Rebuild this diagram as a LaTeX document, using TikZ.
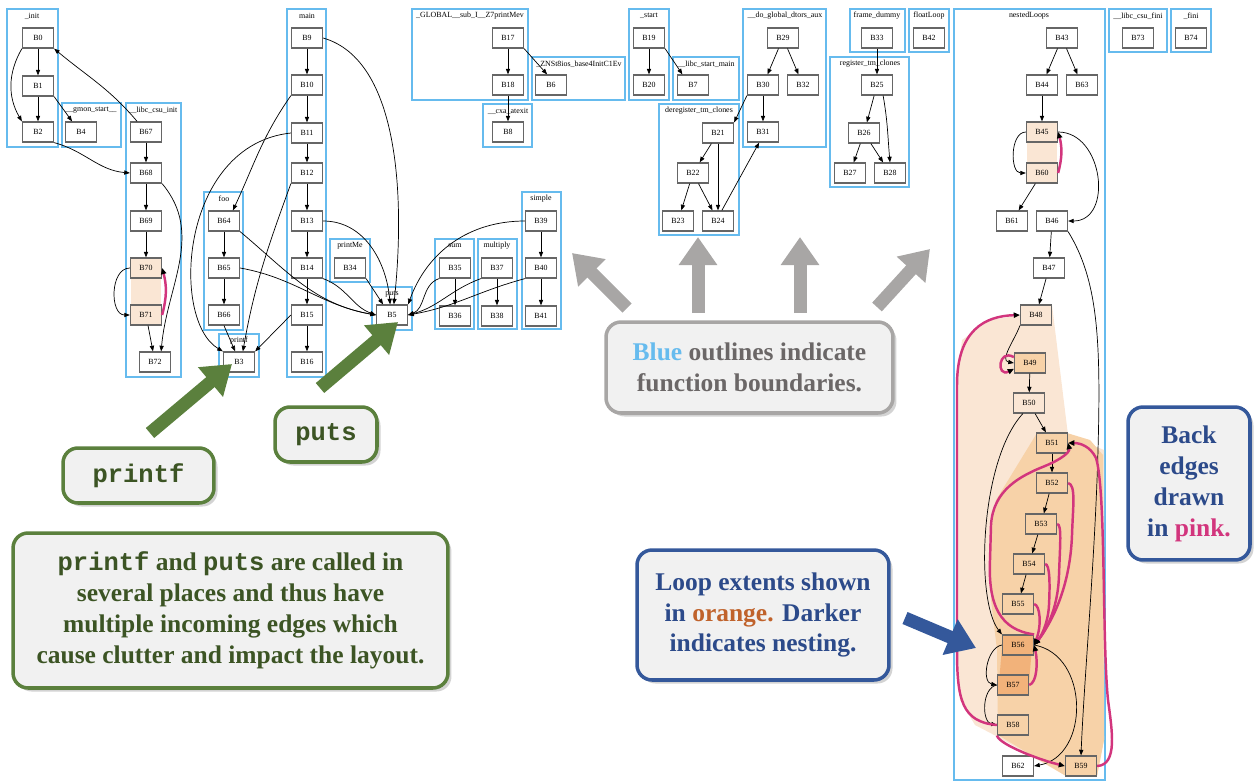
\documentclass[tikz,border=0pt]{standalone}
\usepackage{fontspec}
\setmainfont{Liberation Serif}
\setmonofont{Liberation Mono}
\usetikzlibrary{arrows.meta,shadows}

\definecolor{fnblue}{HTML}{66BBEE}
\definecolor{loopA}{HTML}{FAE6D4}
\definecolor{loopB}{HTML}{F7D2A8}
\definecolor{loopC}{HTML}{F2B27A}
\definecolor{backpink}{HTML}{D2357D}
\definecolor{grn}{HTML}{5B803D}
\definecolor{grntext}{HTML}{3C5424}
\definecolor{gry}{HTML}{A8A6A5}
\definecolor{grytext}{HTML}{6B6767}
\definecolor{nvy}{HTML}{34589B}
\definecolor{nvytext}{HTML}{2C4A8A}
\definecolor{orgtext}{HTML}{C0622B}
\definecolor{boxfill}{HTML}{F1F1F1}

\begin{document}
\begin{tikzpicture}[x=0.02cm,y=-0.02cm]
\tikzset{blk/.style={ %
		draw=black!60,
		line width=0.7pt,
		fill=white,
		minimum width=0.62cm,
		minimum height=0.4cm,
		inner sep=0pt,
		font=\fontsize{4.5}{5}\selectfont %
	},
	fn/.style={draw=fnblue, line width=1pt},
	fnname/.style={inner sep=0pt, font=\fontsize{4.5}{5}\selectfont},
	edge/.style={-{Triangle[length=3.2pt,width=2.4pt]}, line width=0.4pt},
	back/.style={draw=backpink, line width=1.4pt, -{Triangle[length=3.5pt,width=3pt,color=black]}},
	callout/.style={rounded corners=0.3cm, fill=boxfill, line width=2pt, align=center,
		inner sep=0pt, font=\fontsize{14.5}{17.6}\selectfont\bfseries,
		drop shadow={shadow xshift=2pt, shadow yshift=-2pt, opacity=0.35}},
	fat/.style={line width=7.4pt, -{Triangle[length=16pt,width=21pt]}}
}
\useasboundingbox (0,0) rectangle (1254,781);

% function boundaries
\draw[fn] (7,9) rectangle (58,147);
\draw[fn] (62,103) rectangle (121,147);
\draw[fn] (126,103) rectangle (181,377);
\draw[fn] (204,192) rectangle (243,330);
\draw[fn] (219,334) rectangle (259,377);
\draw[fn] (287,9) rectangle (326,377);
\draw[fn] (330,239) rectangle (370,282);
\draw[fn] (372,287) rectangle (412,330);
\draw[fn] (412,9) rectangle (528,100);
\draw[fn] (532,57) rectangle (625,100);
\draw[fn] (483,104) rectangle (532,147);
\draw[fn] (435,239) rectangle (474,329);
\draw[fn] (478,239) rectangle (517,329);
\draw[fn] (522,192) rectangle (561,329);
\draw[fn] (629,9) rectangle (669,100);
\draw[fn] (673,57) rectangle (739,100);
\draw[fn] (743,9) rectangle (826,147);
\draw[fn] (659,104) rectangle (739,235);
\draw[fn] (850,9) rectangle (905,52);
\draw[fn] (909,9) rectangle (949,52);
\draw[fn] (830,57) rectangle (909,187);
\draw[fn] (954,9) rectangle (1105,780);
\draw[fn] (1109,9) rectangle (1167,52);
\draw[fn] (1171,9) rectangle (1211,52);

\node[fnname] (n_init) at (32,16) {\_init};
\node[fnname] (n_gmon) at (91,110) {\_\_gmon\_start\_\_};
\node[fnname] (n_csuinit) at (153,110) {\_\_libc\_csu\_init};
\node[fnname] (n_foo) at (224,199) {foo};
\node[fnname] (n_printf) at (239,341) {printf};
\node[fnname] (n_main) at (307,16) {main};
\node[fnname] (n_printme) at (350,246) {printMe};
\node[fnname] (n_puts) at (392,294) {puts};
\node[fnname] (n_global) at (470,16) {\_GLOBAL\_\_sub\_I\_\_Z7printMev};
\node[fnname] (n_ios) at (579,64) {\_ZNSt8ios\_base4InitC1Ev};
\node[fnname] (n_cxa) at (508,111) {\_\_cxa\_atexit};
\node[fnname] (n_sum) at (455,246) {sum};
\node[fnname] (n_mult) at (497,246) {multiply};
\node[fnname] (n_simple) at (541,199) {simple};
\node[fnname] (n_start) at (649,16) {\_start};
\node[fnname] (n_startmain) at (706,64) {\_\_libc\_start\_main};
\node[fnname] (n_dtors) at (785,16) {\_\_do\_global\_dtors\_aux};
\node[fnname] (n_dereg) at (699,111) {deregister\_tm\_clones};
\node[fnname] (n_frame) at (877,16) {frame\_dummy};
\node[fnname] (n_float) at (929,16) {floatLoop};
\node[fnname] (n_reg) at (870,64) {register\_tm\_clones};
\node[fnname] (n_nested) at (1029,16) {nestedLoops};
\node[fnname] (n_csufini) at (1138,16) {\_\_libc\_csu\_fini};
\node[fnname] (n_fini) at (1191,16) {\_fini};

% loop extents
\fill[loopA] (131,268) rectangle (161,315);
\fill[loopA] (1027,132) rectangle (1057,173);
\fill[loopA] (1021,305) -- (1052,305) -- (1068,435) -- (1104,450) -- (1104,740) -- (1097,776)
	-- (1066,776) -- (998,737) -- (975,725) -- (960,700) -- (957,640) -- (957,380)
	-- (962,340) -- (990,320) -- (1021,315) -- cycle;
\fill[loopB] (1037,433) -- (1067,433) -- (1090,440) -- (1103,455) -- (1104,740) -- (1097,776)
	-- (1066,776) -- (998,735) -- (997,650) -- (991,600) -- (991,530) -- (996,500) -- cycle;
\fill[loopC] (1003,635) -- (1033,635) -- (1028,695) -- (998,695) -- cycle;

% blocks
\node[blk] (B0) at (38,38) {B0};
\node[blk] (B1) at (38,86) {B1};
\node[blk] (B2) at (38,132) {B2};
\node[blk] (B4) at (81,132) {B4};
\node[blk] (B67) at (146,132) {B67};
\node[blk] (B68) at (146,173) {B68};
\node[blk] (B69) at (146,221) {B69};
\node[blk, fill=loopA] (B70) at (146,268) {B70};
\node[blk, fill=loopA] (B71) at (146,315) {B71};
\node[blk] (B72) at (155,362) {B72};
\node[blk] (B64) at (224,221) {B64};
\node[blk] (B65) at (224,268) {B65};
\node[blk] (B66) at (224,315) {B66};
\node[blk] (B3) at (239,362) {B3};
\node[blk] (B9) at (307,38) {B9};
\node[blk] (B10) at (307,85) {B10};
\node[blk] (B11) at (307,133) {B11};
\node[blk] (B12) at (307,173) {B12};
\node[blk] (B13) at (307,221) {B13};
\node[blk] (B14) at (307,268) {B14};
\node[blk] (B15) at (307,315) {B15};
\node[blk] (B16) at (307,362) {B16};
\node[blk] (B34) at (350,268) {B34};
\node[blk] (B5) at (392,315) {B5};
\node[blk] (B17) at (508,38) {B17};
\node[blk] (B18) at (508,85) {B18};
\node[blk] (B6) at (551,85) {B6};
\node[blk] (B8) at (508,132) {B8};
\node[blk] (B35) at (455,268) {B35};
\node[blk] (B36) at (455,316) {B36};
\node[blk] (B37) at (497,268) {B37};
\node[blk] (B38) at (497,316) {B38};
\node[blk] (B39) at (541,221) {B39};
\node[blk] (B40) at (541,268) {B40};
\node[blk] (B41) at (541,316) {B41};
\node[blk] (B19) at (649,38) {B19};
\node[blk] (B20) at (649,85) {B20};
\node[blk] (B7) at (693,85) {B7};
\node[blk] (B29) at (783,38) {B29};
\node[blk] (B30) at (763,85) {B30};
\node[blk] (B32) at (803,85) {B32};
\node[blk] (B31) at (763,132) {B31};
\node[blk] (B21) at (718,133) {B21};
\node[blk] (B22) at (693,173) {B22};
\node[blk] (B23) at (678,221) {B23};
\node[blk] (B24) at (718,221) {B24};
\node[blk] (B33) at (877,38) {B33};
\node[blk] (B42) at (929,38) {B42};
\node[blk] (B25) at (877,85) {B25};
\node[blk] (B26) at (864,133) {B26};
\node[blk] (B27) at (850,173) {B27};
\node[blk] (B28) at (890,173) {B28};
\node[blk] (B73) at (1138,38) {B73};
\node[blk] (B74) at (1191,38) {B74};
\node[blk] (B43) at (1062,38) {B43};
\node[blk] (B44) at (1042,85) {B44};
\node[blk] (B63) at (1082,85) {B63};
\node[blk, fill=loopA] (B45) at (1042,132) {B45};
\node[blk, fill=loopA] (B60) at (1042,173) {B60};
\node[blk] (B61) at (1012,221) {B61};
\node[blk] (B46) at (1052,221) {B46};
\node[blk] (B47) at (1049,268) {B47};
\node[blk, fill=loopA] (B48) at (1036,315) {B48};
\node[blk, fill=loopB] (B49) at (1030,363) {B49};
\node[blk, fill=loopA] (B50) at (1029,403) {B50};
\node[blk, fill=loopB] (B51) at (1052,443) {B51};
\node[blk, fill=loopB] (B52) at (1052,483) {B52};
\node[blk, fill=loopB] (B53) at (1041,524) {B53};
\node[blk, fill=loopB] (B54) at (1029,564) {B54};
\node[blk, fill=loopB] (B55) at (1018,604) {B55};
\node[blk, fill=loopC] (B56) at (1018,645) {B56};
\node[blk, fill=loopC] (B57) at (1013,685) {B57};
\node[blk, fill=loopB] (B58) at (1013,725) {B58};
\node[blk] (B62) at (1018,766) {B62};
\node[blk, fill=loopB] (B59) at (1081,766) {B59};

% edges, left part
\draw[edge] (B0) -- (B1);
\draw[edge] (B1) -- (B2);
\draw[edge] (B0.south west) to[out=240,in=120] (B2.north west);
\draw[edge] (B1.south east) -- (B4.130);
\draw[edge] (B67.130) to[out=130,in=-40] (B0.south east);
\draw[edge] (B2.south east) to[out=-15,in=175] (B68.west);
\draw[edge] (B67) -- (B68);
\draw[edge] (B68) -- (B69);
\draw[edge] (B69) -- (B70);
\draw[edge] (B70.west) to[out=180,in=180,looseness=1.1] (B71.west);
\draw[edge] (B71) -- (B72);
\draw[edge] (B68.south east) to[out=-50,in=85] (B72.60);
\draw[back] (B71.east) to[out=75,in=-75] (B70.east);

\draw[edge] (B64) -- (B65);
\draw[edge] (B65) -- (B66);
\draw[edge] (B10.south west) to[out=235,in=65] (B64.50);
\draw[edge] (B11.west) .. controls (180,145) and (170,320) .. (B3.north west);
\draw[edge] (B12.south west) to[out=250,in=80] (B3.70);
\draw[edge] (B15.west) -- (B3.north east);
\draw[edge] (B66.south) -- (B3.110);
\draw[edge] (B9) -- (B10);
\draw[edge] (B10) -- (B11);
\draw[edge] (B11) -- (B12);
\draw[edge] (B12) -- (B13);
\draw[edge] (B13) -- (B14);
\draw[edge] (B14) -- (B15);
\draw[edge] (B15) -- (B16);

% calls to puts
\draw[edge] (B64.south east) to[out=-40,in=170] (B5.west);
\draw[edge] (B65.east) to[out=-10,in=170] (B5.west);
\draw[edge] (B14.south east) to[out=-20,in=160] (B5.west);
\draw[edge] (B13.east) to[out=0,in=95] (B5.100);
\draw[edge] (B9.east) .. controls (400,60) and (405,200) .. (B5.80);
\draw[edge] (B34.south east) -- (B5.130);
\draw[edge] (B39.west) to[out=180,in=70] (B5.north east);
\draw[edge] (B35.south west) to[out=200,in=20] (B5.east);
\draw[edge] (B37.south west) to[out=200,in=15] (B5.east);
\draw[edge] (B40.south west) to[out=195,in=10] (B5.east);

\draw[edge] (B17) -- (B18);
\draw[edge] (B17.south east) -- (B6.110);
\draw[edge] (B18) -- (B8);
\draw[edge] (B35) -- (B36);
\draw[edge] (B37) -- (B38);
\draw[edge] (B39) -- (B40);
\draw[edge] (B40) -- (B41);

% edges, middle part
\draw[edge] (B19) -- (B20);
\draw[edge] (B19.south east) -- (B7.135);
\draw[edge] (B29) -- (B30);
\draw[edge] (B29) -- (B32);
\draw[edge] (B30) -- (B31);
\draw[edge] (B30.south west) -- (B21.north east);
\draw[edge] (B21) -- (B22);
\draw[edge] (B21) -- (B24);
\draw[edge] (B22) -- (B23);
\draw[edge] (B22) -- (B24);
\draw[edge] (B24.70) -- (B31.250);
\draw[edge] (B33) -- (B25);
\draw[edge] (B25) -- (B26);
\draw[edge] (B26) -- (B27);
\draw[edge] (B26) -- (B28);
\draw[edge] (B25.-60) to[out=-80,in=95] (B28.north);

% nestedLoops
\draw[edge] (B43) -- (B44);
\draw[edge] (B43) -- (B63);
\draw[edge] (B44) -- (B45);
\draw[edge] (B45.west) to[out=180,in=180] (B60.west);
\draw[back] (B60.east) to[out=75,in=-75] (B45.east);
\draw[edge] (B60) -- (B61);
\draw[edge] (B45.east) to[out=0,in=0,looseness=1.3] (B46.east);
\draw[edge] (B46) -- (B47);
\draw[edge] (B46.south east) .. controls (1098,280) and (1101,340) .. (1098,450)
	.. controls (1095,560) and (1084,680) .. (B59.north);
\draw[edge] (B47) -- (B48);
\draw[edge] (B48.south west) to[out=250,in=170] (B49.west);
\draw[back] (B49.160) .. controls (998,348) and (996,378) .. (B49.200);
\draw[edge] (B49) -- (B50);
\draw[edge] (B50) -- (B51);
\draw[edge] (B50.-120) .. controls (980,460) and (975,600) .. (B56.north west);
\draw[edge] (B51) -- (B52);
\draw[edge] (B52) -- (B53);
\draw[edge] (B53) -- (B54);
\draw[edge] (B54) -- (B55);
\draw[edge] (B56.west) to[out=190,in=170] (B57.west);
\draw[edge] (B57.west) to[out=190,in=170] (B58.west);
\draw[edge] (B56.east) to[out=-10,in=10,looseness=1.2] (B62.east);

% back edges
\draw[back] (B58.west) .. controls (962,722) and (957,700) .. (957,650) -- (957,385)
	.. controls (957,330) and (985,316) .. (B48.west);
\draw[back] (B58.south west) .. controls (1000,745) and (1040,760) .. (B59.west);
\draw[back] (B59.east) .. controls (1118,765) and (1112,730) .. (1108,700)
	.. controls (1102,640) and (1106,490) .. (1096,458) .. controls (1090,446) and (1080,443) .. (B51.east);
\draw[back] (B56.north east) .. controls (1000,630) and (988,605) .. (990,560) -- (991,525)
	.. controls (993,490) and (1020,476) .. (1045,466) .. controls (1062,459) and (1070,452) .. (B51.east);
\draw[back] (B52.east) .. controls (1076,485) and (1073,505) .. (1072,535)
	.. controls (1070,590) and (1050,625) .. (B56.east);
\draw[back] (B53.east) .. controls (1062,524) and (1060,545) .. (1059,575)
	.. controls (1058,610) and (1045,632) .. (B56.east);
\draw[back] (B54.east) .. controls (1050,564) and (1050,585) .. (1049,605)
	.. controls (1048,625) and (1040,638) .. (B56.east);
\draw[back] (B55.east) .. controls (1040,605) and (1042,625) .. (B56.east);
\draw[back] (B57.east) .. controls (1037,683) and (1038,662) .. (B56.east);

% callouts
\node[callout, draw=grn, text=grntext, minimum width=3.02cm, minimum height=1.1cm]
	(printfbox) at (138.5,475.5) {\ttfamily printf};
\node[callout, draw=grn, text=grntext, minimum width=2.04cm, minimum height=1.1cm]
	(putsbox) at (326,434.5) {\ttfamily puts};
\node[callout, draw=grn, text=grntext, minimum width=8.7cm, minimum height=3.1cm]
	(notebox) at (230.5,610.5) {{\ttfamily printf} and {\ttfamily puts} are called in\\
	several places and thus have\\ multiple incoming edges which\\ cause clutter and impact the layout.};
\node[callout, draw=gry, text=grytext, minimum width=5.74cm, minimum height=1.82cm]
	(fnbox) at (749.5,367.5) {{\color{fnblue}Blue} outlines indicate\\ function boundaries.};
\node[callout, draw=nvy, text=nvytext, minimum width=5.04cm, minimum height=2.6cm]
	(loopbox) at (763,615) {Loop extents shown\\ in {\color{orgtext}orange.} Darker\\ indicates nesting.};
\node[callout, draw=nvy, text=nvytext, minimum width=2.44cm, minimum height=3.06cm]
	(backbox) at (1189,483.5) {Back\\ edges\\ drawn\\ in {\color{backpink}pink.}};

% pointers
\coordinate (pf0) at (150,433);
\coordinate (pf1) at (232,364);
\coordinate (pt0) at (320,388);
\coordinate (pt1) at (398,322);
\coordinate (ga0) at (627,308);
\coordinate (ga1) at (572,253);
\coordinate (gb0) at (698,313);
\coordinate (gb1) at (698,237);
\coordinate (gc0) at (800,313);
\coordinate (gc1) at (800,237);
\coordinate (gd0) at (877,307);
\coordinate (gd1) at (930,249);
\coordinate (bl0) at (905,618);
\coordinate (bl1) at (976,648);

\draw[fat, grn] (pf0) -- (pf1);
\draw[fat, grn] (pt0) -- (pt1);
\draw[fat, gry] (ga0) -- (ga1);
\draw[fat, gry] (gb0) -- (gb1);
\draw[fat, gry] (gc0) -- (gc1);
\draw[fat, gry] (gd0) -- (gd1);
\draw[fat, nvy] (bl0) -- (bl1);

\end{tikzpicture}
\end{document}
